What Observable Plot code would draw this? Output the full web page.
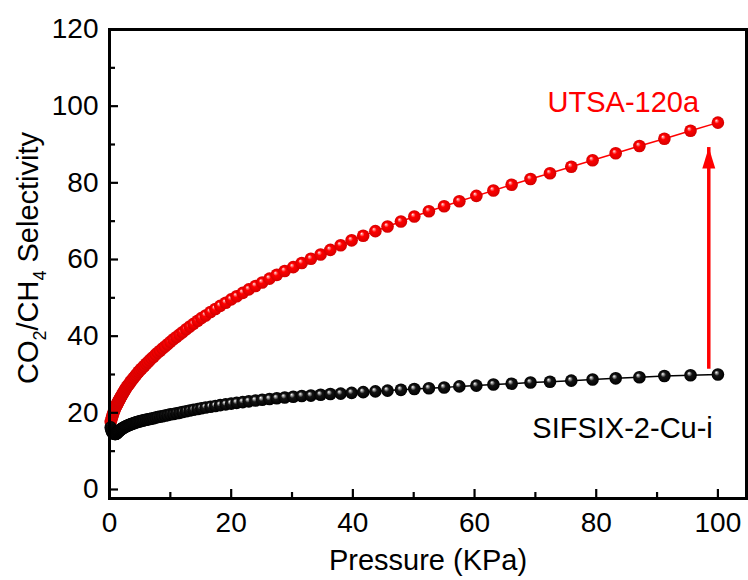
<!DOCTYPE html>
<html>
<head>
<meta charset="utf-8">
<script src="https://cdn.jsdelivr.net/npm/d3@7"></script>
<script src="https://cdn.jsdelivr.net/npm/@observablehq/plot@0.6"></script>
<style>
  body { margin: 0; background: #fff; }
  svg { display: block; }
</style>
</head>
<body>
<div id="chart"></div>
<script>
// Pressure steps (kPa), shared by both isotherm-derived selectivity curves
const pressure = [
  0.2, 0.3, 0.4, 0.5, 0.6, 0.7, 0.8, 0.9,
  1.00, 1.05, 1.10, 1.15, 1.20, 1.26, 1.32, 1.38, 1.45, 1.51,
  1.58, 1.66, 1.74, 1.82, 1.91, 2.00, 2.09, 2.19, 2.29, 2.40,
  2.51, 2.63, 2.75, 2.88, 3.02, 3.16, 3.31, 3.47, 3.63, 3.80,
  3.98, 4.17, 4.37, 4.57, 4.79, 5.01, 5.25, 5.50, 5.75, 6.03,
  6.31, 6.61, 6.92, 7.24, 7.59, 7.94, 8.32, 8.71, 9.12, 9.55,
  10.0, 10.5, 11.0, 11.5, 12.0, 12.6, 13.2, 13.8, 14.5, 15.1,
  15.8, 16.6, 17.4, 18.2, 19.1, 20.0, 20.9, 21.9, 22.9, 24.0,
  25.1, 26.3, 27.5, 28.8, 30.2, 31.6, 33.1, 34.7, 36.3, 38.0,
  39.8, 41.7, 43.7, 45.7, 47.9, 50.1, 52.5, 55.0, 57.5, 60.3,
  63.1, 66.1, 69.2, 72.4, 75.9, 79.4, 83.2, 87.1, 91.2, 95.5,
  100
];

// CO2/CH4 selectivity of UTSA-120a
const utsa = [
  17.6, 18.2, 18.8, 19.3, 19.8, 20.3, 20.7, 21.1,
  21.5, 21.6, 21.8, 22.0, 22.1, 22.3, 22.5, 22.7, 22.9, 23.1,
  23.3, 23.5, 23.8, 24.0, 24.3, 24.5, 24.7, 25.0, 25.3, 25.6,
  25.9, 26.2, 26.5, 26.8, 27.1, 27.4, 27.7, 28.1, 28.4, 28.8,
  29.1, 29.5, 29.9, 30.3, 30.7, 31.1, 31.5, 31.9, 32.3, 32.8,
  33.2, 33.7, 34.2, 34.6, 35.2, 35.7, 36.2, 36.8, 37.3, 37.9,
  38.5, 39.2, 39.8, 40.4, 41.0, 41.8, 42.5, 43.2, 44.0, 44.7,
  45.4, 46.3, 47.1, 47.9, 48.7, 49.6, 50.4, 51.3, 52.2, 53.1,
  54.0, 55.0, 56.0, 57.0, 58.0, 59.1, 60.2, 61.3, 62.5, 63.7,
  65.0, 66.2, 67.4, 68.6, 69.9, 71.2, 72.6, 73.9, 75.2, 76.6,
  78.0, 79.5, 81.0, 82.5, 84.2, 85.9, 87.7, 89.6, 91.5, 93.6,
  95.7
];

// CO2/CH4 selectivity of SIFSIX-2-Cu-i
const sifsix = [
  16.2, 15.6, 15.2, 14.9, 14.7, 14.6, 14.5, 14.5,
  14.5, 14.5, 14.6, 14.6, 14.7, 14.8, 14.9, 15.0, 15.1, 15.2,
  15.3, 15.4, 15.5, 15.6, 15.7, 15.8, 15.9, 16.0, 16.1, 16.2,
  16.3, 16.4, 16.5, 16.6, 16.7, 16.8, 16.9, 17.0, 17.1, 17.2,
  17.3, 17.4, 17.5, 17.6, 17.7, 17.8, 17.9, 18.0, 18.1, 18.2,
  18.3, 18.4, 18.5, 18.6, 18.8, 18.9, 19.0, 19.1, 19.3, 19.4,
  19.6, 19.7, 19.9, 20.0, 20.2, 20.4, 20.6, 20.8, 21.0, 21.2,
  21.4, 21.6, 21.8, 22.0, 22.2, 22.4, 22.6, 22.8, 23.0, 23.2,
  23.4, 23.6, 23.8, 24.0, 24.2, 24.4, 24.5, 24.7, 24.9, 25.0,
  25.2, 25.4, 25.6, 25.8, 26.0, 26.2, 26.4, 26.6, 26.9, 27.1,
  27.4, 27.6, 27.9, 28.1, 28.4, 28.7, 29.0, 29.3, 29.6, 29.8,
  30.0
];

// Axis ticks
const xMajor = [0, 20, 40, 60, 80, 100];
const xMinor = [10, 30, 50, 70, 90];
const yMajor = [0, 20, 40, 60, 80, 100, 120];
const yMinor = [10, 30, 50, 70, 90, 110];

// Labels
const seriesNames = ["UTSA-120a", "SIFSIX-2-Cu-i"];
const xTitle = "Pressure (KPa)";

// Enhancement arrow: pressure, selectivity from -> to
const arrowAt = [98.5];
const arrowFrom = [34.5];
const arrowTo = [89.2];

const RED = "#ff0000";
const FONT = "'Liberation Sans', Arial, Helvetica, sans-serif";

const rows = pressure.map((p, i) => ({p, utsa: utsa[i], sifsix: sifsix[i]}));
const arrows = arrowAt.map((x, i) => ({x, from: arrowFrom[i], to: arrowTo[i]}));
const labels = [
  {name: seriesNames[0], x: 72.0, y: 101.0, color: RED},
  {name: seriesNames[1], x: 69.5, y: 15.9, color: "black"}
];

// Filled, slender arrow head with its tip at the dot's anchor
const arrowHead = {
  draw(ctx) {
    ctx.moveTo(0, 0);
    ctx.lineTo(6.5, 21);
    ctx.lineTo(-6.5, 21);
    ctx.closePath();
  }
};

const blank = () => "";

const chart = Plot.plot({
  width: 748,
  height: 580,
  marginLeft: 109,
  marginRight: 2,
  marginTop: 29,
  marginBottom: 82,
  style: {fontFamily: FONT, fontSize: "28px", color: "black", background: "white", overflow: "visible"},
  x: {domain: [0, 104.7]},
  y: {domain: [-2.35, 120]},
  marks: [
    // UTSA-120a
    Plot.line(rows, {x: "p", y: "utsa", stroke: RED, strokeWidth: 1.5}),
    Plot.dot(rows, {x: "p", y: "utsa", r: 6.3, fill: "url(#ball-red)"}),
    // SIFSIX-2-Cu-i
    Plot.line(rows, {x: "p", y: "sifsix", stroke: "black", strokeWidth: 1.5}),
    Plot.dot(rows, {x: "p", y: "sifsix", r: 6.3, fill: "url(#ball-black)"}),

    // enhancement arrow
    Plot.ruleX(arrows, {x: "x", y1: "from", y2: "to", stroke: RED, strokeWidth: 3.5, insetTop: 12}),
    Plot.dot(arrows, {x: "x", y: "to", symbol: arrowHead, r: 10, fill: RED}),

    // series names
    Plot.text(labels, {x: "x", y: "y", text: "name", fill: "color", textAnchor: "start", fontSize: 29}),

    // x title
    Plot.text([xTitle], {text: d => d, frameAnchor: "bottom", lineAnchor: "top", dy: 51, fontSize: 29, fill: "black"}),

    // tick labels
    Plot.axisY({ticks: yMajor, tickSize: 0, tickPadding: 11, label: null}),
    Plot.axisX({ticks: xMajor, tickSize: 0, tickPadding: 14, label: null}),
    // inward ticks
    Plot.axisY({ticks: yMajor, tickSize: 9, dx: 9, tickFormat: blank, label: null, strokeWidth: 2.2}),
    Plot.axisY({ticks: yMinor, tickSize: 6, dx: 6, tickFormat: blank, label: null, strokeWidth: 2.2}),
    Plot.axisX({ticks: xMajor, tickSize: 9, dy: -9, tickFormat: blank, label: null, strokeWidth: 2.2}),
    Plot.axisX({ticks: xMinor, tickSize: 6, dy: -6, tickFormat: blank, label: null, strokeWidth: 2.2}),

    Plot.frame({stroke: "black", strokeWidth: 3})
  ]
});

const svg = d3.select(chart);

// shaded ball fills
const defs = svg.insert("defs", ":first-child");
function ball(id, stops) {
  const g = defs.append("radialGradient")
    .attr("id", id)
    .attr("cx", "50%").attr("cy", "50%").attr("r", "50%")
    .attr("fx", "36%").attr("fy", "32%");
  for (const [offset, color] of stops) {
    g.append("stop").attr("offset", offset).attr("stop-color", color);
  }
}
ball("ball-red", [["0%", "#fff4f4"], ["16%", "#ff8080"], ["38%", "#ff0000"], ["100%", "#d40000"]]);
ball("ball-black", [["0%", "#ffffff"], ["18%", "#9a9a9a"], ["42%", "#141414"], ["100%", "#000000"]]);

// y title with subscripts
const yTitle = svg.append("text")
  .attr("transform", "translate(38,258) rotate(-90)")
  .attr("text-anchor", "middle")
  .attr("font-family", FONT)
  .attr("font-size", 29)
  .attr("fill", "black");
yTitle.append("tspan").text("CO");
yTitle.append("tspan").attr("font-size", 18).attr("dy", 8).text("2");
yTitle.append("tspan").attr("dy", -8).text("/CH");
yTitle.append("tspan").attr("font-size", 18).attr("dy", 8).text("4");
yTitle.append("tspan").attr("dy", -8).text(" Selectivity");

document.getElementById("chart").appendChild(chart);
</script>
</body>
</html>
